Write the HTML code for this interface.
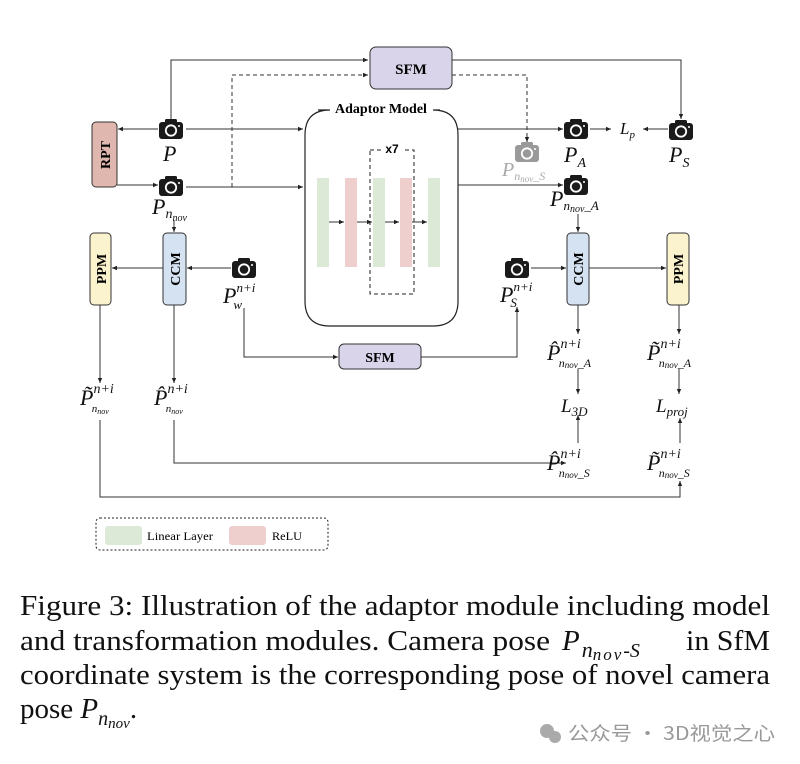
<!DOCTYPE html>
<html><head><meta charset="utf-8"><style>
html,body{margin:0;padding:0;background:#fff;}
svg{display:block;}
.m{font-family:"Liberation Serif",serif;font-style:italic;}
.b{font-family:"Liberation Serif",serif;font-weight:bold;}
</style></head><body>
<svg width="800" height="764" viewBox="0 0 800 764" xmlns="http://www.w3.org/2000/svg">
<defs>
<marker id="a" markerWidth="6" markerHeight="6" refX="5" refY="3" orient="auto" markerUnits="userSpaceOnUse"><path d="M0,0.8 L5,3 L0,5.2z" fill="#222"/></marker>
<g id="cam"><rect x="-12" y="-7" width="24" height="17" rx="3" fill="#1a1a1a"/><rect x="-6" y="-10" width="12" height="5" rx="1.5" fill="#1a1a1a"/><circle cx="0" cy="1.5" r="5.2" fill="none" stroke="#fff" stroke-width="1.8"/><circle cx="8" cy="-3" r="1" fill="#fff"/></g>
<g id="camg"><rect x="-12" y="-7" width="24" height="17" rx="3" fill="#9a9a9a"/><rect x="-6" y="-10" width="12" height="5" rx="1.5" fill="#9a9a9a"/><circle cx="0" cy="1.5" r="5.2" fill="none" stroke="#fff" stroke-width="1.8"/><circle cx="8" cy="-3" r="1" fill="#fff"/></g>
</defs>
<g stroke="#333" stroke-width="1" fill="none">
<path d="M171,120 V60 H368" marker-end="url(#a)"/>
<path d="M232,187 V75 H368" stroke-dasharray="4,3" marker-end="url(#a)"/>
<path d="M452,60 H681 V119" marker-end="url(#a)"/>
<path d="M452,75 H527 V142" stroke-dasharray="4,3" marker-end="url(#a)"/>
<path d="M186,129 H303" marker-end="url(#a)"/>
<path d="M186,187 H303" marker-end="url(#a)"/>
<path d="M158,129 H118" marker-end="url(#a)"/>
<path d="M117,185 H158" marker-end="url(#a)"/>
<path d="M458,129 H563" marker-end="url(#a)"/>
<path d="M590,129 H611" marker-end="url(#a)"/>
<path d="M668,129 H643" marker-end="url(#a)"/>
<path d="M458,185 H563" marker-end="url(#a)"/>
<path d="M174,220 V232" marker-end="url(#a)"/>
<path d="M231,268 H187" marker-end="url(#a)"/>
<path d="M163,268 H112" marker-end="url(#a)"/>
<path d="M100,305 V383" marker-end="url(#a)"/>
<path d="M174,305 V383" marker-end="url(#a)"/>
<path d="M244,308 V357 H338" marker-end="url(#a)"/>
<path d="M421,357 H517 V307" marker-end="url(#a)"/>
<path d="M578,214 V232" marker-end="url(#a)"/>
<path d="M531,268 H566" marker-end="url(#a)"/>
<path d="M589,268 H666" marker-end="url(#a)"/>
<path d="M578,305 V334" marker-end="url(#a)"/>
<path d="M679,305 V334" marker-end="url(#a)"/>
<path d="M578,369 V394" marker-end="url(#a)"/>
<path d="M679,369 V394" marker-end="url(#a)"/>
<path d="M578,443 V415" marker-end="url(#a)"/>
<path d="M680,443 V418" marker-end="url(#a)"/>
<path d="M174,420 V463 H566" marker-end="url(#a)"/>
<path d="M100,420 V497 H680 V481" marker-end="url(#a)"/>
</g>
<path d="M318,110 H330 M440,110 H433 Q458,110 458,135 V301 Q458,326 433,326 H330 Q305,326 305,301 V135 Q305,110 330,110" fill="none" stroke="#222" stroke-width="1.2"/>
<text x="381" y="113" text-anchor="middle" class="b" font-size="14">Adaptor Model</text>
<rect x="370" y="150" width="44" height="144" fill="none" stroke="#222" stroke-dasharray="4,3"/>
<rect x="382" y="142" width="22" height="14" fill="#fff"/>
<text x="392" y="153" text-anchor="middle" font-family="Liberation Sans,sans-serif" font-weight="bold" font-size="12">x7</text>
<g fill="#dde9d7"><rect x="317" y="178" width="12" height="89"/><rect x="373" y="178" width="12" height="89"/><rect x="428" y="178" width="12" height="89"/></g>
<g fill="#efcfcd"><rect x="345" y="178" width="12" height="89"/><rect x="400" y="178" width="12" height="89"/></g>
<g stroke="#333" fill="none"><path d="M329,222 H344" marker-end="url(#a)"/><path d="M357,222 H372" marker-end="url(#a)"/><path d="M385,222 H399" marker-end="url(#a)"/><path d="M412,222 H427" marker-end="url(#a)"/></g>
<rect x="370" y="47" width="82" height="42" rx="6" fill="#d9d4ea" stroke="#333"/>
<text x="411" y="74" text-anchor="middle" class="b" font-size="15">SFM</text>
<rect x="339" y="344" width="82" height="25" rx="5" fill="#d9d4ea" stroke="#333"/>
<text x="380" y="362" text-anchor="middle" class="b" font-size="14">SFM</text>
<rect x="92" y="122" width="25" height="65" rx="4" fill="#e0b7ae" stroke="#333"/>
<text transform="translate(110,155) rotate(-90)" text-anchor="middle" class="b" font-size="14">RPT</text>
<rect x="90" y="233" width="21" height="72" rx="4" fill="#fbf3cd" stroke="#333"/>
<text transform="translate(106,269) rotate(-90)" text-anchor="middle" class="b" font-size="14">PPM</text>
<rect x="163" y="233" width="23" height="72" rx="4" fill="#d4e2f1" stroke="#333"/>
<text transform="translate(180,269) rotate(-90)" text-anchor="middle" class="b" font-size="14">CCM</text>
<rect x="567" y="233" width="22" height="72" rx="4" fill="#d4e2f1" stroke="#333"/>
<text transform="translate(583,269) rotate(-90)" text-anchor="middle" class="b" font-size="14">CCM</text>
<rect x="667" y="233" width="22" height="72" rx="4" fill="#fbf3cd" stroke="#333"/>
<text transform="translate(683,269) rotate(-90)" text-anchor="middle" class="b" font-size="14">PPM</text>
<use href="#cam" x="171" y="129"/>
<use href="#cam" x="171" y="186"/>
<use href="#cam" x="244" y="268"/>
<use href="#cam" x="517" y="268"/>
<use href="#cam" x="576" y="129"/>
<use href="#cam" x="576" y="185"/>
<use href="#cam" x="681" y="130"/>
<use href="#camg" x="527" y="152"/>
<g class="m" fill="#111">
<text x="163" y="161" font-size="22">P</text>
<text x="152" y="214" font-size="22">P<tspan font-size="14" dy="4">n</tspan><tspan font-size="10" dy="3">nov</tspan></text>
<text x="502" y="176" font-size="20" fill="#aaa">P<tspan font-size="12" dy="4">n</tspan><tspan font-size="9" dy="2">nov</tspan><tspan font-size="12" dy="-2">_S</tspan></text>
<text x="564" y="162" font-size="22">P<tspan font-size="14" dy="5">A</tspan></text>
<text x="669" y="162" font-size="22">P<tspan font-size="14" dy="5">S</tspan></text>
<text x="620" y="134" font-size="17">L<tspan font-size="11" dy="4">p</tspan></text>
<text x="550" y="206" font-size="22">P<tspan font-size="13" dy="4">n</tspan><tspan font-size="10" dy="2">nov</tspan><tspan font-size="13" dy="-2">_A</tspan></text>
<text x="223" y="303" font-size="22">P<tspan font-size="13" dy="-11">n+i</tspan><tspan font-size="13" dx="-22" dy="17">w</tspan></text>
<text x="500" y="302" font-size="22">P<tspan font-size="13" dy="-11">n+i</tspan><tspan font-size="13" dx="-22" dy="16">S</tspan></text>
<text x="80" y="405" font-size="22">P̃<tspan font-size="14" dy="-12">n+i</tspan><tspan font-size="11" dx="-22" dy="19">n</tspan><tspan font-size="8" dy="2">nov</tspan></text>
<text x="154" y="405" font-size="22">P̂<tspan font-size="14" dy="-12">n+i</tspan><tspan font-size="11" dx="-22" dy="19">n</tspan><tspan font-size="8" dy="2">nov</tspan></text>
<text x="547" y="360" font-size="22">P̂<tspan font-size="14" dy="-12">n+i</tspan><tspan font-size="12" dx="-22" dy="19">n</tspan><tspan font-size="9" dy="1">nov</tspan><tspan font-size="12" dy="-1">_A</tspan></text>
<text x="647" y="360" font-size="22">P̃<tspan font-size="14" dy="-12">n+i</tspan><tspan font-size="12" dx="-22" dy="19">n</tspan><tspan font-size="9" dy="1">nov</tspan><tspan font-size="12" dy="-1">_A</tspan></text>
<text x="561" y="412" font-size="19">L<tspan font-size="13" dy="4">3D</tspan></text>
<text x="656" y="412" font-size="19">L<tspan font-size="13" dy="4">proj</tspan></text>
<text x="547" y="470" font-size="22">P̂<tspan font-size="14" dy="-12">n+i</tspan><tspan font-size="12" dx="-22" dy="19">n</tspan><tspan font-size="9" dy="1">nov</tspan><tspan font-size="12" dy="-1">_S</tspan></text>
<text x="647" y="470" font-size="22">P̃<tspan font-size="14" dy="-12">n+i</tspan><tspan font-size="12" dx="-22" dy="19">n</tspan><tspan font-size="9" dy="1">nov</tspan><tspan font-size="12" dy="-1">_S</tspan></text>
</g>
<rect x="96" y="518" width="232" height="32" rx="4" fill="none" stroke="#222" stroke-dasharray="2,2"/>
<rect x="105" y="526" width="37" height="19" rx="3" fill="#dde9d7"/>
<text x="147" y="540" font-family="Liberation Serif,serif" font-size="12" textLength="66" lengthAdjust="spacingAndGlyphs">Linear Layer</text>
<rect x="229" y="526" width="37" height="19" rx="3" fill="#efcfcd"/>
<text x="272" y="540" font-family="Liberation Serif,serif" font-size="12" textLength="30" lengthAdjust="spacingAndGlyphs">ReLU</text>
<g font-family="Liberation Serif,serif" font-size="29" fill="#111">
<text x="20" y="615" textLength="750" lengthAdjust="spacingAndGlyphs">Figure 3: Illustration of the adaptor module including model</text>
<text x="20" y="650" textLength="530" lengthAdjust="spacingAndGlyphs">and transformation modules. Camera pose</text>
<text x="562" y="650" font-style="italic">P<tspan font-size="22" dy="7" dx="2">n</tspan><tspan font-size="17" dy="3" letter-spacing="2">nov</tspan><tspan font-size="20" dy="-3">-S</tspan></text>
<text x="770" y="650" text-anchor="end" textLength="84" lengthAdjust="spacingAndGlyphs">in SfM</text>
<text x="20" y="684" textLength="750" lengthAdjust="spacingAndGlyphs">coordinate system is the corresponding pose of novel camera</text>
<text x="20" y="718">pose <tspan font-style="italic">P</tspan><tspan font-style="italic" font-size="20" dy="7">n</tspan><tspan font-style="italic" font-size="15" dy="3">nov</tspan><tspan dy="-10">.</tspan></text>
</g>
<g fill="#aaa"><circle cx="547" cy="731" r="7"/><circle cx="555" cy="737" r="6"/></g>
<text x="568" y="740" font-family="'Noto Sans CJK SC',sans-serif" font-size="19" fill="#999" textLength="207" lengthAdjust="spacingAndGlyphs">公众号 · 3D视觉之心</text>
</svg>
</body></html>
